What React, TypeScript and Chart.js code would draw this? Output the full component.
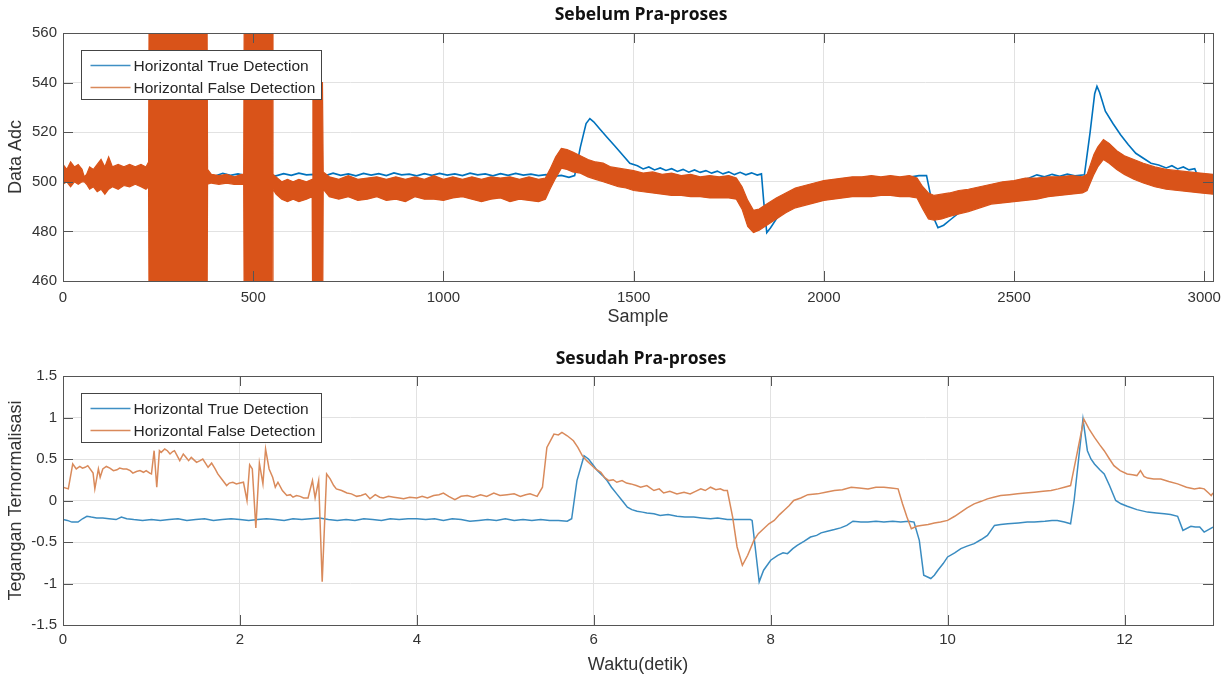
import React, { useEffect, useRef } from 'react';
import { Chart, registerables } from 'chart.js';

Chart.register(...registerables);

// ---------------- Top chart data (Sebelum Pra-proses) ----------------
const topXTicks = [0, 500, 1000, 1500, 2000, 2500, 3000];
const topYTicks = [460, 480, 500, 520, 540, 560];

const topBlueX = [0, 15, 30, 45, 55, 65, 80, 100, 120, 140, 160, 180, 200, 220, 240, 300, 360, 380, 400, 420, 440, 460, 480, 520, 560, 580, 600, 620, 640, 660, 690, 710, 730, 750, 770, 790, 810, 830, 850, 870, 890, 910, 930, 950, 970, 990, 1010, 1030, 1050, 1070, 1090, 1110, 1130, 1150, 1170, 1190, 1210, 1230, 1250, 1270, 1290, 1310, 1330, 1345, 1360, 1375, 1385, 1395, 1410, 1430, 1450, 1470, 1490, 1510, 1525, 1540, 1555, 1570, 1585, 1600, 1615, 1630, 1645, 1660, 1675, 1690, 1705, 1720, 1735, 1750, 1765, 1780, 1795, 1810, 1825, 1836, 1842, 1850, 1860, 1875, 1900, 1950, 2000, 2050, 2100, 2150, 2200, 2230, 2250, 2270, 2280, 2290, 2300, 2315, 2335, 2355, 2380, 2420, 2460, 2500, 2520, 2540, 2560, 2580, 2600, 2620, 2640, 2660, 2685, 2700, 2712, 2718, 2725, 2740, 2760, 2780, 2800, 2820, 2840, 2860, 2880, 2900, 2915, 2930, 2945, 2960, 2975, 2985, 3000, 3023];
const topBlueY = [503, 502, 503.5, 502.5, 501.5, 502.5, 503, 502.5, 503, 502.4, 503.2, 502.6, 503, 502.5, 503, 503, 503, 503, 502.3, 503.4, 502.6, 503.2, 502.5, 503, 502.4, 503.3, 502.6, 503.5, 502.8, 503, 502.5, 503.5, 502.6, 503.2, 502.4, 503.4, 502.7, 503.3, 502.5, 503.6, 502.8, 503.1, 502.4, 503.3, 502.6, 503.4, 502.7, 503.2, 502.5, 503.5, 502.8, 503.2, 502.4, 503.3, 502.6, 503.4, 502.7, 503.1, 502.5, 502.9, 502.2, 502.6, 501.8, 502.5, 514, 523.5, 525.5, 524.2, 521.5, 518, 514.5, 511, 507.5, 506.5, 505.2, 506, 504.8, 505.6, 504.6, 505.3, 504.2, 505, 503.9, 504.8, 503.8, 504.5, 503.5, 504.3, 503.2, 504, 502.9, 503.8, 502.8, 503.6, 502.7, 503.2, 492, 479.5, 481.5, 485, 489, 494, 497, 499, 500, 501, 501.5, 502, 502.5, 502.5, 495, 485, 481.5, 482.5, 485, 487.5, 490, 493, 496, 499, 500.5, 501.5, 502.8, 502, 503, 502.2, 503.1, 502.4, 502.8, 520, 535.5, 538.5, 536, 528.5, 523.5, 519, 515, 511.5, 509.5, 507.5, 506.8, 505.6, 506.5, 505.2, 506, 504.8, 505.3, 501.5, 500.5, 500];

const topOrangeX = [0, 10, 20, 30, 40, 50, 56, 62, 70, 80, 90, 100, 110, 120, 130, 145, 160, 175, 190, 205, 218, 225, 227, 378, 380, 390, 410, 430, 450, 470, 475, 477, 550, 552, 560, 575, 590, 605, 620, 640, 655, 657, 682, 684, 700, 725, 750, 775, 800, 825, 850, 875, 900, 925, 950, 975, 1000, 1025, 1050, 1075, 1100, 1125, 1150, 1175, 1200, 1225, 1250, 1268, 1280, 1295, 1310, 1325, 1340, 1360, 1380, 1400, 1420, 1440, 1460, 1480, 1500, 1525, 1550, 1575, 1600, 1625, 1650, 1675, 1700, 1725, 1750, 1770, 1785, 1800, 1815, 1830, 1850, 1875, 1900, 1925, 1950, 1975, 2000, 2025, 2050, 2075, 2100, 2125, 2150, 2175, 2200, 2225, 2245, 2260, 2275, 2290, 2310, 2330, 2355, 2380, 2410, 2440, 2470, 2500, 2530, 2560, 2590, 2620, 2650, 2680, 2692, 2710, 2720, 2735, 2750, 2770, 2790, 2815, 2840, 2870, 2900, 2930, 2960, 2990, 3023];
const topOrangeHigh = [507, 505, 508, 506, 507, 505, 502, 503, 506, 505, 507, 509, 506, 510, 506, 507, 506, 507, 506, 507, 506, 508, 600, 600, 505, 503, 502.5, 503, 502, 503, 503, 600, 600, 503, 502, 500, 501, 500, 501, 500, 501, 540, 540, 504, 502, 501, 502.5, 501, 501.5, 502, 501, 502, 501, 502, 501, 502.5, 501, 502, 501, 502, 501, 502, 501.5, 502, 501, 502, 501, 501.5, 505, 510, 513.5, 513, 512, 510.5, 509, 508, 507.5, 506, 505.5, 505, 504.5, 503.5, 504, 503, 503.5, 502.5, 503, 502, 502.5, 502, 502.5, 501.5, 498, 492.5, 488.5, 489, 491, 493.5, 495.5, 497.5, 498.5, 499.5, 500.5, 501, 501.5, 502, 502, 502.5, 502, 502.5, 502, 502.5, 501.5, 498, 495.5, 494.5, 495, 495.5, 496.5, 497, 498, 499, 500, 500.5, 501.5, 501.5, 502, 502, 502.5, 502, 503, 511, 514, 517, 515.5, 512.5, 510.5, 509, 507.5, 506, 505, 504.5, 504, 503.5, 503];
const topOrangeLow = [499, 500, 498, 500, 499, 500, 500, 499, 497, 498, 496, 497, 495, 497, 498, 497, 498.5, 498, 499, 498, 497, 498, 420, 420, 499, 499.5, 499, 499.5, 499, 499, 499, 420, 420, 497, 495, 493, 492, 493, 492, 493, 494, 420, 420, 497, 494, 493, 494, 492.5, 493, 494, 492.5, 493, 492, 494, 493, 493, 492.5, 493.5, 494, 493, 492, 493, 493.5, 492, 493, 492.5, 492, 493, 497, 501.5, 505.5, 505, 504, 503.5, 502, 501, 500, 499, 498, 497.5, 496.5, 496, 495.5, 495, 494.5, 494.5, 494, 494, 493.5, 493.5, 493.5, 493, 489, 482, 479.5, 480.5, 482.5, 485, 487.5, 489.5, 490.5, 491.5, 492.5, 493, 493.5, 494, 494, 494, 494.5, 494.5, 494, 494, 493.5, 489, 485, 484.5, 485, 486, 487, 488, 489.5, 491, 491.5, 492, 492.5, 493, 494, 494.5, 495, 495.5, 496.5, 503, 506, 509, 507.5, 505, 503, 501, 499.5, 498, 497, 496.5, 496, 495.5, 495];

// ---------------- Bottom chart data (Sesudah Pra-proses) ----------------
const botXTicks = [0, 2, 4, 6, 8, 10, 12];
const botYTicks = [-1.5, -1, -0.5, 0, 0.5, 1, 1.5];

const botBlueT = [0, 0.05, 0.1, 0.17, 0.22, 0.27, 0.32, 0.38, 0.45, 0.52, 0.6, 0.66, 0.72, 0.8, 0.9, 1.0, 1.1, 1.2, 1.3, 1.4, 1.5, 1.6, 1.7, 1.8, 1.9, 2.0, 2.1, 2.2, 2.3, 2.4, 2.5, 2.6, 2.7, 2.8, 2.9, 3.0, 3.1, 3.2, 3.3, 3.4, 3.5, 3.6, 3.7, 3.8, 3.9, 4.0, 4.1, 4.2, 4.3, 4.4, 4.5, 4.6, 4.7, 4.8, 4.9, 5.0, 5.1, 5.2, 5.3, 5.4, 5.5, 5.6, 5.7, 5.75, 5.81, 5.89, 5.94, 5.99, 6.04, 6.1, 6.15, 6.2, 6.26, 6.32, 6.38, 6.43, 6.49, 6.55, 6.6, 6.68, 6.75, 6.84, 6.94, 7.03, 7.13, 7.22, 7.32, 7.4, 7.51, 7.6, 7.7, 7.77, 7.79, 7.87, 7.92, 8.0, 8.08, 8.14, 8.19, 8.25, 8.3, 8.38, 8.45, 8.52, 8.57, 8.64, 8.72, 8.79, 8.86, 8.93, 9.02, 9.1, 9.19, 9.28, 9.38, 9.47, 9.56, 9.62, 9.68, 9.73, 9.81, 9.85, 9.89, 9.95, 10.0, 10.08, 10.15, 10.22, 10.3, 10.38, 10.45, 10.53, 10.6, 10.68, 10.8, 10.9, 10.98, 11.1, 11.18, 11.24, 11.32, 11.39, 11.43, 11.53, 11.58, 11.62, 11.66, 11.72, 11.77, 11.83, 11.9, 11.96, 12.03, 12.14, 12.26, 12.36, 12.45, 12.52, 12.6, 12.66, 12.75, 12.8, 12.85, 12.9, 12.95, 13.0];
const botBlueV = [-0.23, -0.24, -0.26, -0.26, -0.22, -0.19, -0.2, -0.21, -0.21, -0.22, -0.23, -0.2, -0.22, -0.23, -0.24, -0.23, -0.24, -0.23, -0.22, -0.24, -0.23, -0.22, -0.24, -0.23, -0.22, -0.23, -0.24, -0.23, -0.22, -0.23, -0.24, -0.22, -0.23, -0.22, -0.21, -0.23, -0.24, -0.23, -0.24, -0.22, -0.23, -0.24, -0.22, -0.23, -0.22, -0.22, -0.23, -0.22, -0.24, -0.22, -0.23, -0.25, -0.24, -0.23, -0.24, -0.22, -0.24, -0.23, -0.24, -0.23, -0.24, -0.24, -0.25, -0.22, 0.24, 0.54, 0.5, 0.43, 0.36, 0.3, 0.24, 0.16, 0.08, 0.0, -0.08, -0.11, -0.13, -0.14, -0.15, -0.16, -0.18, -0.17, -0.19, -0.2, -0.2, -0.21, -0.22, -0.21, -0.23, -0.23, -0.23, -0.23, -0.24, -0.98, -0.84, -0.72, -0.66, -0.63, -0.64, -0.58, -0.54, -0.49, -0.44, -0.42, -0.39, -0.37, -0.35, -0.33, -0.3, -0.25, -0.26, -0.26, -0.25, -0.26, -0.25, -0.26, -0.25, -0.26, -0.48, -0.9, -0.94, -0.9, -0.84, -0.76, -0.68, -0.63, -0.58, -0.55, -0.52, -0.47, -0.42, -0.3, -0.29, -0.28, -0.27, -0.26, -0.26, -0.25, -0.24, -0.24, -0.26, -0.28, 0.0, 0.98, 0.6, 0.5, 0.44, 0.37, 0.32, 0.18, 0.0, -0.04, -0.07, -0.11, -0.14, -0.15, -0.16, -0.17, -0.19, -0.36, -0.31, -0.32, -0.32, -0.38, -0.35, -0.32];

const botOrangeT = [0, 0.06, 0.11, 0.15, 0.19, 0.22, 0.25, 0.28, 0.34, 0.36, 0.4, 0.42, 0.45, 0.49, 0.53, 0.57, 0.61, 0.64, 0.68, 0.72, 0.76, 0.79, 0.83, 0.87, 0.91, 0.94, 0.98, 1.0, 1.03, 1.06, 1.09, 1.11, 1.15, 1.18, 1.21, 1.24, 1.26, 1.29, 1.32, 1.36, 1.39, 1.42, 1.45, 1.48, 1.51, 1.55, 1.58, 1.61, 1.64, 1.68, 1.72, 1.75, 1.8, 1.85, 1.88, 1.92, 1.96, 2.0, 2.04, 2.08, 2.11, 2.14, 2.18, 2.22, 2.26, 2.29, 2.33, 2.37, 2.4, 2.43, 2.48, 2.53, 2.57, 2.6, 2.64, 2.68, 2.72, 2.77, 2.82, 2.85, 2.89, 2.93, 2.98, 3.02, 3.06, 3.09, 3.15, 3.21, 3.26, 3.32, 3.37, 3.42, 3.47, 3.53, 3.58, 3.62, 3.68, 3.74, 3.8, 3.85, 3.92, 4.0, 4.06, 4.12, 4.19, 4.25, 4.3, 4.36, 4.43, 4.5, 4.57, 4.64, 4.72, 4.79, 4.87, 4.94, 5.02, 5.1, 5.17, 5.23, 5.28, 5.36, 5.42, 5.47, 5.55, 5.6, 5.64, 5.7, 5.77, 5.82, 5.87, 5.92, 5.96, 6.02, 6.08, 6.12, 6.17, 6.22, 6.26, 6.32, 6.37, 6.42, 6.48, 6.53, 6.6, 6.68, 6.74, 6.79, 6.86, 6.94, 7.02, 7.09, 7.15, 7.21, 7.26, 7.32, 7.38, 7.43, 7.47, 7.51, 7.57, 7.62, 7.68, 7.74, 7.81, 7.86, 7.92, 7.98, 8.04, 8.1, 8.15, 8.21, 8.26, 8.34, 8.42, 8.53, 8.62, 8.72, 8.81, 8.91, 9.0, 9.1, 9.19, 9.28, 9.36, 9.44, 9.49, 9.54, 9.59, 9.65, 9.7, 9.78, 9.85, 9.92, 10.0, 10.08, 10.15, 10.22, 10.3, 10.38, 10.45, 10.52, 10.6, 10.7, 10.79, 10.88, 10.98, 11.08, 11.17, 11.25, 11.32, 11.39, 11.46, 11.54, 11.6, 11.66, 11.72, 11.77, 11.83, 11.88, 11.95, 12.03, 12.09, 12.14, 12.18, 12.22, 12.26, 12.33, 12.41, 12.5, 12.6, 12.7, 12.79, 12.85, 12.9, 12.95, 12.98, 13.0];
const botOrangeV = [0.16, 0.14, 0.44, 0.38, 0.41, 0.39, 0.4, 0.42, 0.33, 0.14, 0.38, 0.28, 0.38, 0.41, 0.39, 0.36, 0.37, 0.39, 0.38, 0.38, 0.36, 0.33, 0.35, 0.36, 0.34, 0.36, 0.33, 0.32, 0.6, 0.16, 0.6, 0.58, 0.62, 0.6, 0.56, 0.59, 0.6, 0.54, 0.48, 0.56, 0.52, 0.48, 0.52, 0.49, 0.46, 0.48, 0.5, 0.45, 0.4, 0.45, 0.38, 0.32, 0.25, 0.18, 0.21, 0.22, 0.2, 0.21, 0.22, 0.0, 0.43, 0.38, -0.33, 0.45, 0.2, 0.62, 0.38, 0.28, 0.16, 0.22, 0.12, 0.06, 0.07, 0.04, 0.06, 0.05, 0.03, 0.03, 0.24, 0.03, 0.24, -0.98, 0.32, 0.26, 0.18, 0.14, 0.12, 0.09, 0.08, 0.05, 0.06, 0.08, 0.02, 0.07, 0.04, 0.03, 0.05, 0.04, 0.03, 0.02, 0.04, 0.03, 0.05, 0.03, 0.06, 0.07, 0.09, 0.05, 0.01, 0.05, 0.06, 0.04, 0.07, 0.05, 0.09, 0.06, 0.07, 0.08, 0.05, 0.07, 0.08, 0.05, 0.16, 0.64, 0.8, 0.79, 0.82, 0.78, 0.72, 0.64, 0.54, 0.48, 0.44, 0.38, 0.34, 0.28, 0.24, 0.25, 0.22, 0.24, 0.21, 0.2, 0.18, 0.16, 0.18, 0.12, 0.14, 0.09, 0.11, 0.08, 0.1, 0.08, 0.11, 0.14, 0.12, 0.16, 0.13, 0.14, 0.12, 0.12, -0.2, -0.56, -0.78, -0.66, -0.48, -0.4, -0.34, -0.28, -0.24, -0.17, -0.12, -0.06, 0.0, 0.03, 0.07, 0.08, 0.1, 0.12, 0.13, 0.16, 0.15, 0.14, 0.16, 0.16, 0.15, 0.14, -0.04, -0.2, -0.34, -0.31, -0.3, -0.29, -0.27, -0.26, -0.24, -0.19, -0.14, -0.09, -0.04, -0.01, 0.02, 0.04, 0.06, 0.07, 0.08, 0.09, 0.1, 0.11, 0.12, 0.14, 0.16, 0.18, 0.55, 0.98, 0.86, 0.76, 0.67, 0.6, 0.5, 0.42, 0.36, 0.32, 0.31, 0.3, 0.36, 0.29, 0.27, 0.26, 0.26, 0.23, 0.2, 0.16, 0.14, 0.15, 0.14, 0.09, 0.06, 0.09];

const legendLabels = ['Horizontal True Detection', 'Horizontal False Detection'];
const topTitle = 'Sebelum Pra-proses';
const botTitle = 'Sesudah Pra-proses';

// ---------------- Styling ----------------
const SANS = '"Liberation Sans", Arial, sans-serif';
const GRID = '#e2e2e2';
const AXIS = '#555555';
const TEXT = '#333333';
const BLUE_TOP = '#0072BD';
const ORANGE_TOP = '#D95319';
const BLUE_BOT = '#3a8cc1';
const ORANGE_BOT = '#d98a5b';
const LEGEND_BLUE = '#3f8fc4';
const LEGEND_ORANGE = '#d9895a';

const pts = (xs: number[], ys: number[]) => xs.map((x, i) => ({ x, y: ys[i] }));

function decorPlugin(o: { xTicks: number[]; yTicks: number[]; title: string; titleY: number; colors: string[] }) {
  return {
    id: 'matlabDecor',
    afterDatasetsDraw(chart: any) {
      const { ctx, chartArea: a, scales } = chart;
      const tl = 10;
      ctx.save();
      ctx.strokeStyle = AXIS;
      ctx.lineWidth = 1;
      ctx.beginPath();
      for (const v of o.xTicks) {
        const px = Math.round(scales.x.getPixelForValue(v)) + 0.5;
        ctx.moveTo(px, a.bottom);
        ctx.lineTo(px, a.bottom - tl);
        ctx.moveTo(px, a.top);
        ctx.lineTo(px, a.top + tl);
      }
      for (const v of o.yTicks) {
        const py = Math.round(scales.y.getPixelForValue(v)) + 0.5;
        ctx.moveTo(a.left, py);
        ctx.lineTo(a.left + tl, py);
        ctx.moveTo(a.right, py);
        ctx.lineTo(a.right - tl, py);
      }
      ctx.stroke();
      ctx.strokeRect(Math.round(a.left) + 0.5, Math.round(a.top) + 0.5, Math.round(a.right - a.left), Math.round(a.bottom - a.top));
      ctx.restore();
    },
    afterDraw(chart: any) {
      const { ctx, chartArea: a } = chart;
      ctx.save();
      // title
      ctx.fillStyle = '#111111';
      ctx.font = 'bold 17.5px "Open Sans", "Noto Sans", sans-serif';
      ctx.textAlign = 'center';
      ctx.textBaseline = 'middle';
      ctx.fillText(o.title, (a.left + a.right) / 2 + 3, o.titleY);
      // legend
      const lx = Math.round(a.left) + 18.5;
      const ly = Math.round(a.top) + 17.5;
      const lw = 240;
      const lh = 49;
      ctx.fillStyle = '#ffffff';
      ctx.fillRect(lx, ly, lw, lh);
      ctx.strokeStyle = '#444444';
      ctx.lineWidth = 1;
      ctx.strokeRect(lx, ly, lw, lh);
      const rows = [ly + 15, ly + 37];
      ctx.font = '15.5px ' + SANS;
      ctx.textAlign = 'left';
      ctx.textBaseline = 'middle';
      rows.forEach((ry, i) => {
        ctx.beginPath();
        ctx.strokeStyle = o.colors[i];
        ctx.lineWidth = 1.3;
        ctx.moveTo(lx + 9, ry);
        ctx.lineTo(lx + 49, ry);
        ctx.stroke();
        ctx.fillStyle = '#262626';
        ctx.fillText(legendLabels[i], lx + 52, ry + 1);
      });
      ctx.restore();
    },
  };
}

function makeScales(o: {
  xMin: number; xMax: number; yMin: number; yMax: number;
  xTicks: number[]; yTicks: number[]; xHeight: number;
  xPad: number; xTitle: string; yTitle: string; xTitlePad: number;
}) {
  return {
    x: {
      type: 'linear',
      min: o.xMin,
      max: o.xMax,
      afterFit: (s: any) => { s.height = o.xHeight; },
      afterBuildTicks: (s: any) => { s.ticks = o.xTicks.map((v) => ({ value: v })); },
      grid: { color: GRID, drawTicks: false, lineWidth: 1 },
      border: { display: false },
      ticks: {
        color: TEXT, font: { family: SANS, size: 15 }, padding: o.xPad,
        maxRotation: 0, autoSkip: false, callback: (v: any) => String(v),
      },
      title: {
        display: true, text: o.xTitle, color: TEXT,
        font: { family: SANS, size: 18 }, padding: { top: 0, bottom: o.xTitlePad },
      },
    },
    y: {
      type: 'linear',
      min: o.yMin,
      max: o.yMax,
      afterFit: (s: any) => { s.width = 63; },
      afterBuildTicks: (s: any) => { s.ticks = o.yTicks.map((v) => ({ value: v })); },
      grid: { color: GRID, drawTicks: false, lineWidth: 1 },
      border: { display: false },
      ticks: {
        color: TEXT, font: { family: SANS, size: 15 }, padding: 6,
        autoSkip: false, callback: (v: any) => String(v),
      },
      title: {
        display: true, text: o.yTitle, color: TEXT,
        font: { family: SANS, size: 18 }, padding: { top: 5, bottom: 0 },
      },
    },
  };
}

const commonOptions = {
  responsive: false,
  animation: false,
  devicePixelRatio: 1,
  events: [],
  plugins: { legend: { display: false }, tooltip: { enabled: false }, title: { display: false } },
  elements: { point: { radius: 0 }, line: { tension: 0 } },
};

export default function App() {
  const topRef = useRef<HTMLCanvasElement>(null);
  const botRef = useRef<HTMLCanvasElement>(null);

  useEffect(() => {
    const top = new Chart(topRef.current as HTMLCanvasElement, {
      type: 'line',
      data: {
        datasets: [
          { data: pts(topOrangeX, topOrangeHigh), borderColor: ORANGE_TOP, backgroundColor: ORANGE_TOP, borderWidth: 1.2, fill: '+1', order: 1, clip: 0 } as any,
          { data: pts(topOrangeX, topOrangeLow), borderColor: ORANGE_TOP, borderWidth: 1.2, fill: false, order: 1, clip: 0 } as any,
          { data: pts(topBlueX, topBlueY), borderColor: BLUE_TOP, borderWidth: 1.6, fill: false, order: 2, clip: 0 } as any,
        ],
      },
      options: {
        ...commonOptions,
        layout: { padding: { top: 33, right: 19, left: 0, bottom: 0 } },
        scales: makeScales({
          xMin: 0, xMax: 3023, yMin: 460, yMax: 560, xTicks: topXTicks, yTicks: topYTicks,
          xHeight: 57, xPad: 8, xTitle: 'Sample', yTitle: 'Data Adc', xTitlePad: 10,
        }),
      } as any,
      plugins: [decorPlugin({ xTicks: topXTicks, yTicks: topYTicks, title: topTitle, titleY: 15, colors: [LEGEND_BLUE, LEGEND_ORANGE] })],
    });

    const bot = new Chart(botRef.current as HTMLCanvasElement, {
      type: 'line',
      data: {
        datasets: [
          { data: pts(botOrangeT, botOrangeV), borderColor: ORANGE_BOT, borderWidth: 1.5, fill: false, order: 1, clip: 0 } as any,
          { data: pts(botBlueT, botBlueV), borderColor: BLUE_BOT, borderWidth: 1.5, fill: false, order: 2, clip: 0 } as any,
        ],
      },
      options: {
        ...commonOptions,
        layout: { padding: { top: 38, right: 19, left: 0, bottom: 0 } },
        scales: makeScales({
          xMin: 0, xMax: 13, yMin: -1.5, yMax: 1.5, xTicks: botXTicks, yTicks: botYTicks,
          xHeight: 56, xPad: 6, xTitle: 'Waktu(detik)', yTitle: 'Tegangan Ternormalisasi', xTitlePad: 5,
        }),
      } as any,
      plugins: [decorPlugin({ xTicks: botXTicks, yTicks: botYTicks, title: botTitle, titleY: 21, colors: [LEGEND_BLUE, LEGEND_ORANGE] })],
    });

    return () => {
      top.destroy();
      bot.destroy();
    };
  }, []);

  return (
    <div style={{ position: 'absolute', left: 0, top: 0, width: 1232, height: 681, background: '#ffffff', overflow: 'hidden' }}>
      <canvas ref={topRef} width={1232} height={338} style={{ position: 'absolute', left: 0, top: 0, width: 1232, height: 338 }} />
      <canvas ref={botRef} width={1232} height={343} style={{ position: 'absolute', left: 0, top: 338, width: 1232, height: 343 }} />
    </div>
  );
}
